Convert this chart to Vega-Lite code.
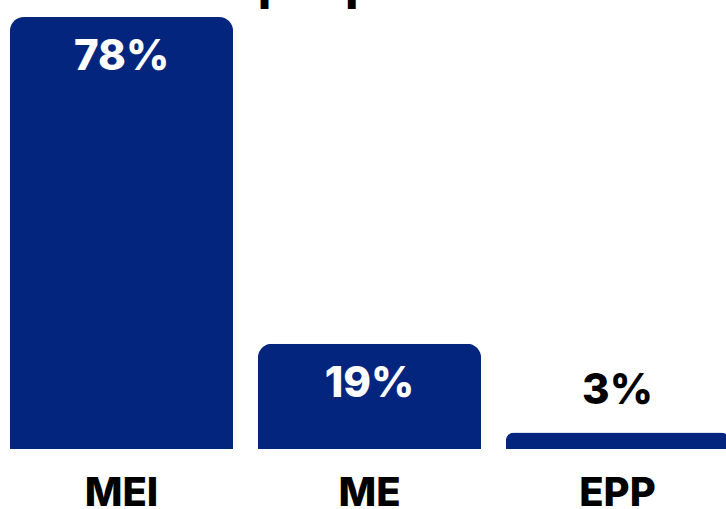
{
  "$schema": "https://vega.github.io/schema/vega-lite/v6.json",
  "autosize": "none",
  "width": 726,
  "height": 432,
  "padding": {"top": 17, "left": 0, "right": 0, "bottom": 60},
  "background": "white",
  "title": {
    "text": "por porte",
    "anchor": "middle",
    "fontSize": 46,
    "font": "Inter",
    "fontWeight": 800,
    "color": "#000000",
    "baseline": "alphabetic",
    "offset": 0,
    "dy": 29
  },
  "config": {"view": {"stroke": null}},
  "data": {
    "values": [
      {"porte": "MEI", "pct": 78, "label": "78%"},
      {"porte": "ME", "pct": 19, "label": "19%"},
      {"porte": "EPP", "pct": 3, "label": "3%"}
    ]
  },
  "encoding": {
    "x": {
      "field": "porte",
      "type": "nominal",
      "sort": null,
      "scale": {"range": [0, 739], "paddingInner": 0.1, "paddingOuter": 0.04},
      "axis": {
        "title": null,
        "domain": false,
        "ticks": false,
        "labelAngle": 0,
        "labelFont": "Inter",
        "labelFontSize": 40,
        "labelFontWeight": 800,
        "labelColor": "#000000",
        "labelBaseline": "top",
        "labelPadding": 24
      }
    },
    "y": {
      "field": "pct",
      "type": "quantitative",
      "scale": {"domain": [0, 78]},
      "axis": null
    }
  },
  "layer": [
    {
      "mark": {"type": "bar", "color": "#03257e", "cornerRadiusTopLeft": 14, "cornerRadiusTopRight": 14}
    },
    {
      "transform": [{"filter": "datum.pct >= 10"}],
      "mark": {"type": "text", "color": "#ffffff", "font": "Inter", "fontSize": 42, "fontWeight": 800, "baseline": "middle", "dy": 40},
      "encoding": {"text": {"field": "label"}}
    },
    {
      "transform": [{"filter": "datum.pct < 10"}],
      "mark": {"type": "text", "color": "#000000", "font": "Inter", "fontSize": 42, "fontWeight": 800, "baseline": "middle", "dy": -41},
      "encoding": {"text": {"field": "label"}}
    }
  ]
}
